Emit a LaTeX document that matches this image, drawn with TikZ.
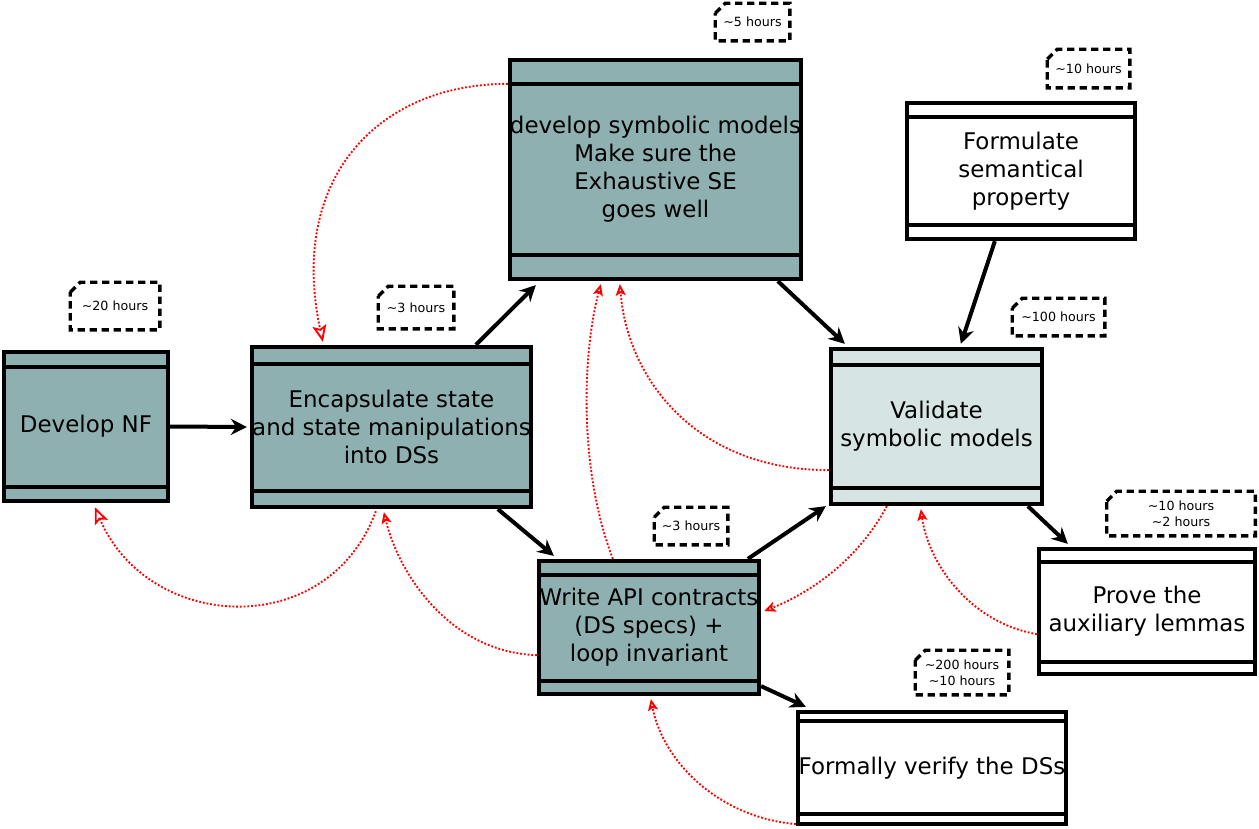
\documentclass[tikz,border=0pt]{standalone}
\usepackage{fontspec}
\setmainfont{DejaVu Sans}
\usetikzlibrary{arrows.meta,calc}
\definecolor{darkfill}{HTML}{8FB0B0}
\definecolor{lightfill}{HTML}{D6E4E4}
\definecolor{redline}{HTML}{FF0000}
\newcommand{\bandlines}[3]{%
  \draw[bandline] ($(#1.north west)+(0,#2)$) -- ($(#1.north east)+(0,#2)$);
  \draw[bandline] ($(#1.south west)+(0,-#3)$) -- ($(#1.south east)+(0,-#3)$);}
\begin{document}
\begin{tikzpicture}[x=0.75pt,y=-0.75pt,
  taskbox/.style={draw=black, line width=3.2pt, inner sep=0pt, align=center,
    font=\fontsize{17.2}{21}\selectfont},
  bandline/.style={draw=black, line width=2.8pt},
  notebox/.style={inner sep=0pt, align=center, font=\fontsize{9.5}{12}\selectfont},
  noteline/.style={draw=black, line width=2.6pt, dash pattern=on 5.5pt off 3.5pt},
  flow/.style={draw=black, line width=3pt, -{Stealth[length=12pt,width=12pt,inset=4pt]}},
  back/.style={draw=redline, line width=1.4pt, dash pattern=on 1.4pt off 1.4pt,
    -{Stealth[open,length=8.5pt,width=7.5pt,inset=1.8pt]}},
  bigback/.style={back, -{Stealth[open,length=12.5pt,width=10.5pt,inset=2.5pt]}}
]
\useasboundingbox (0,0) rectangle (1259,828);

% task boxes
\node[taskbox, fill=darkfill, minimum width={164*0.75pt}, minimum height={149*0.75pt}] (nf) at (86,426.5) {Develop NF};
\node[taskbox, fill=darkfill, minimum width={279*0.75pt}, minimum height={160*0.75pt}] (enc) at (391.5,427) {Encapsulate state\\and state manipulations\\into DSs};
\node[taskbox, fill=darkfill, minimum width={291*0.75pt}, minimum height={219*0.75pt}] (sym) at (655.5,169.5) {develop symbolic models\\Make sure the\\Exhaustive SE\\goes well};
\node[taskbox, fill=white, minimum width={228*0.75pt}, minimum height={136*0.75pt}] (form) at (1021,171) {Formulate\\semantical\\property};
\node[taskbox, fill=lightfill, minimum width={211*0.75pt}, minimum height={155*0.75pt}] (val) at (936.5,426.5) {Validate\\symbolic models};
\node[taskbox, fill=darkfill, minimum width={220*0.75pt}, minimum height={133*0.75pt}] (api) at (649,627.5) {Write API contracts\\(DS specs) +\\loop invariant};
\node[taskbox, fill=white, minimum width={216*0.75pt}, minimum height={125*0.75pt}] (prove) at (1147,611.5) {Prove the\\auxiliary lemmas};
\node[taskbox, fill=white, minimum width={268*0.75pt}, minimum height={112*0.75pt}] (formal) at (932,768) {Formally verify the DSs};

\bandlines{nf}{17}{16}
\bandlines{enc}{19}{18}
\bandlines{sym}{26}{26}
\bandlines{form}{16}{16}
\bandlines{val}{18}{18}
\bandlines{api}{16}{15}
\bandlines{prove}{15}{14}
\bandlines{formal}{11}{12}

% notes
\node[notebox, minimum width={74*0.75pt}, minimum height={37*0.75pt}] (n5) at (752.5,22) {\textasciitilde5 hours};
\node[notebox, minimum width={82*0.75pt}, minimum height={38*0.75pt}] (n10) at (1088.5,68.5) {\textasciitilde10 hours};
\node[notebox, minimum width={89*0.75pt}, minimum height={47*0.75pt}] (n20) at (115,306) {\textasciitilde20 hours};
\node[notebox, minimum width={75*0.75pt}, minimum height={42*0.75pt}] (n3a) at (416,307.5) {\textasciitilde3 hours};
\node[notebox, minimum width={92*0.75pt}, minimum height={37*0.75pt}] (n100) at (1058.5,317) {\textasciitilde100 hours};
\node[notebox, minimum width={73*0.75pt}, minimum height={37*0.75pt}] (n3b) at (691,526) {\textasciitilde3 hours};
\node[notebox, minimum width={148*0.75pt}, minimum height={44*0.75pt}] (n10b) at (1181,513.5) {\textasciitilde10 hours\\\textasciitilde2 hours};
\node[notebox, minimum width={93*0.75pt}, minimum height={44*0.75pt}] (n200) at (962,672.5) {\textasciitilde200 hours\\\textasciitilde10 hours};
\foreach \n in {n5,n10,n20,n3a,n100,n3b,n10b,n200}
  \draw[noteline] ($(\n.north west)+(0,10)$) -- ($(\n.north west)+(10,0)$) -- (\n.north east) -- (\n.south east) -- (\n.south west) -- cycle;

% black flow arrows
\draw[flow] (nf.east) -- ($(enc.west)+(-3,0)$);
\draw[flow] ($(enc.north west)+(226,0)$) -- ($(sym.south west)+(28,4)$);
\draw[flow] ($(sym.south west)+(270,0)$) -- ($(val.north west)+(16,-3)$);
\draw[flow] ($(form.south west)+(90,0)$) -- ($(val.north west)+(132,-3)$);
\draw[flow] ($(enc.south west)+(248,0)$) -- ($(api.north west)+(17,-3)$);
\draw[flow] ($(api.north west)+(211,0)$) -- ($(val.south west)+(-3,0)$);
\draw[flow] ($(val.south west)+(199,0)$) -- ($(prove.north west)+(31,-3)$);
\draw[flow] ($(api.south east)+(0,-10)$) -- ($(formal.north west)+(10,-3)$);

% red feedback arrows
\draw[bigback] ($(sym.north west)+(0,26)$) .. controls +(-130,0) and +(-35,-163) .. ($(enc.north west)+(73,-3)$);
\draw[bigback] ($(enc.south west)+(126,2)$) .. controls +(-48,131) and +(53,125) .. ($(nf.south west)+(93,4)$);
\draw[back] ($(api.south west)+(0,-41)$) .. controls +(-89,-3) and +(14,59) .. ($(enc.south west)+(134,3)$);
\draw[back] ($(api.north west)+(76,0)$) .. controls +(-35,-91) and +(-18,67) .. ($(sym.south west)+(93,3)$);
\draw[back] ($(val.south west)+(0,-36)$) .. controls +(-131,0) and +(8,97) .. ($(sym.south west)+(112,3)$);
\draw[back] ($(val.south west)+(58,0)$) .. controls +(-29,54) and +(47,-19) .. ($(api.south east)+(3,-85)$);
\draw[back] ($(prove.south west)+(0,-42)$) .. controls +(-69,-12) and +(7,52) .. ($(val.south west)+(92,3)$);
\draw[back] ($(formal.south west)+(0,-2)$) .. controls +(-78,-7) and +(12,62) .. ($(api.south west)+(114,3)$);
\end{tikzpicture}
\end{document}
